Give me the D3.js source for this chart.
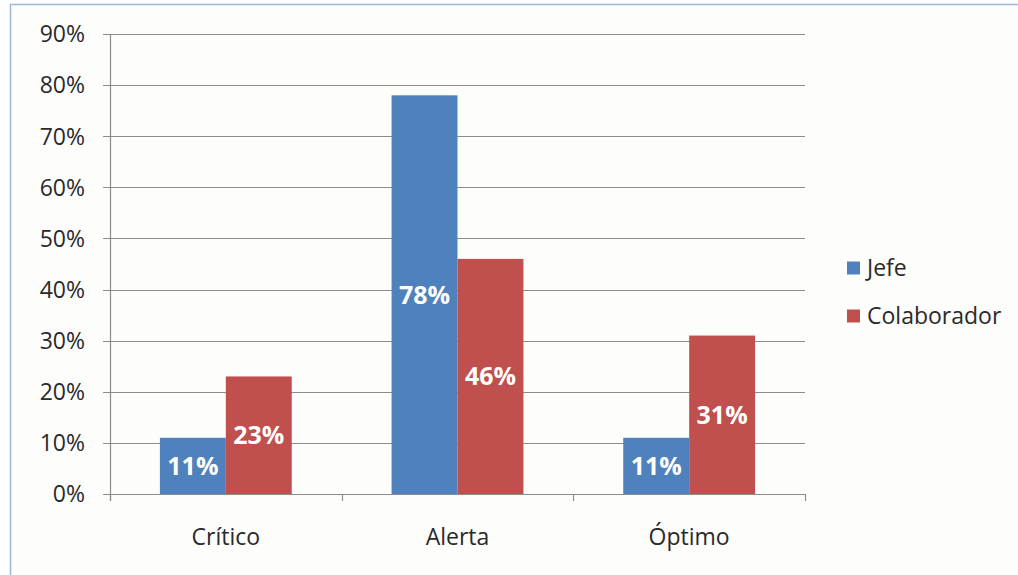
<!DOCTYPE html>
<html>
<head>
<meta charset="utf-8">
<script src="https://cdn.jsdelivr.net/npm/d3@7/dist/d3.min.js"></script>
<style>
  html, body { margin: 0; padding: 0; background: #ffffff; }
  svg { display: block; }
  text { font-family: "Open Sans", "Noto Sans", sans-serif; }
</style>
</head>
<body>
<svg id="chart" width="1018" height="575"></svg>
<script>
// Categories, series and values (fractions)
const categories = ["Crítico", "Alerta", "Óptimo"];
const seriesNames = ["Jefe", "Colaborador"];
const jefeValues = [0.11, 0.78, 0.11];
const colaboradorValues = [0.23, 0.46, 0.31];
const yTicks = [0, 0.1, 0.2, 0.3, 0.4, 0.5, 0.6, 0.7, 0.8, 0.9];
const seriesColors = ["#4f81bd", "#c0504d"];

const seriesValues = [jefeValues, colaboradorValues];
const rows = categories.map((c, i) => ({
  category: c,
  values: seriesNames.map((s, j) => ({ series: s, value: seriesValues[j][i], color: seriesColors[j] }))
}));

const svg = d3.select("#chart");

// Chart area frame
svg.append("rect")
  .attr("x", 10.5).attr("y", 4.5)
  .attr("width", 1100).attr("height", 700)
  .attr("fill", "#fdfdfc")
  .attr("stroke", "#9fb6da")
  .attr("stroke-width", 1.5);

const plot = { left: 110, right: 805, top: 34, bottom: 494 };

const x = d3.scaleBand()
  .domain(categories)
  .range([plot.left, plot.right])
  .paddingInner(0).paddingOuter(0);

const x1 = d3.scaleBand()
  .domain(seriesNames)
  .range([0, x.bandwidth()])
  .paddingInner(0)
  .paddingOuter(0.757);

const y = d3.scaleLinear()
  .domain([0, 0.9])
  .range([plot.bottom, plot.top]);

// Gridlines
svg.append("g")
  .selectAll("line")
  .data(yTicks)
  .join("line")
  .attr("x1", plot.left - 7)
  .attr("x2", plot.right)
  .attr("y1", d => Math.round(y(d)) + 0.5)
  .attr("y2", d => Math.round(y(d)) + 0.5)
  .attr("stroke", "#8c8c8c")
  .attr("stroke-width", 1.2);

// Y tick labels
svg.append("g")
  .selectAll("text")
  .data(yTicks)
  .join("text")
  .attr("x", 85)
  .attr("y", d => y(d))
  .attr("dy", "0.36em")
  .attr("text-anchor", "end")
  .attr("font-size", 23)
  .attr("fill", "#2a2a2a")
  .text(d => d3.format(".0%")(d));

// Bars
const groups = svg.append("g")
  .selectAll("g")
  .data(rows)
  .join("g")
  .attr("transform", d => `translate(${x(d.category)},0)`);

groups.selectAll("rect")
  .data(d => d.values)
  .join("rect")
  .attr("x", d => x1(d.series))
  .attr("width", x1.bandwidth())
  .attr("y", d => y(d.value))
  .attr("height", d => y(0) - y(d.value))
  .attr("fill", d => d.color);

// Value labels centred in each bar
groups.selectAll("text")
  .data(d => d.values)
  .join("text")
  .attr("x", d => x1(d.series) + x1.bandwidth() / 2)
  .attr("y", d => (y(d.value) + y(0)) / 2)
  .attr("dy", "0.36em")
  .attr("text-anchor", "middle")
  .attr("font-size", 25)
  .attr("font-weight", "bold")
  .attr("fill", "#ffffff")
  .text(d => d3.format(".0%")(d.value));

// Axes lines
svg.append("line")
  .attr("x1", plot.left + 0.5).attr("x2", plot.left + 0.5)
  .attr("y1", plot.top).attr("y2", plot.bottom + 7)
  .attr("stroke", "#8c8c8c").attr("stroke-width", 1.2);

const catEdges = d3.range(categories.length + 1).map(i => plot.left + i * x.bandwidth());
svg.append("g")
  .selectAll("line")
  .data(catEdges)
  .join("line")
  .attr("x1", d => Math.round(d) + 0.5)
  .attr("x2", d => Math.round(d) + 0.5)
  .attr("y1", plot.bottom)
  .attr("y2", plot.bottom + 7)
  .attr("stroke", "#8c8c8c").attr("stroke-width", 1.2);

// Category labels
svg.append("g")
  .selectAll("text")
  .data(categories)
  .join("text")
  .attr("x", d => x(d) + x.bandwidth() / 2)
  .attr("y", 537)
  .attr("dy", "0.36em")
  .attr("text-anchor", "middle")
  .attr("font-size", 23)
  .attr("fill", "#2a2a2a")
  .text(d => d);

// Legend
const legend = svg.append("g")
  .selectAll("g")
  .data(seriesNames)
  .join("g")
  .attr("transform", (d, i) => `translate(847,${268 + i * 48})`);

legend.append("rect")
  .attr("x", 0).attr("y", -6.5)
  .attr("width", 13).attr("height", 13)
  .attr("fill", (d, i) => seriesColors[i]);

legend.append("text")
  .attr("x", 20)
  .attr("y", 0)
  .attr("dy", "0.36em")
  .attr("font-size", 23)
  .attr("fill", "#2a2a2a")
  .text(d => d);
</script>
</body>
</html>
